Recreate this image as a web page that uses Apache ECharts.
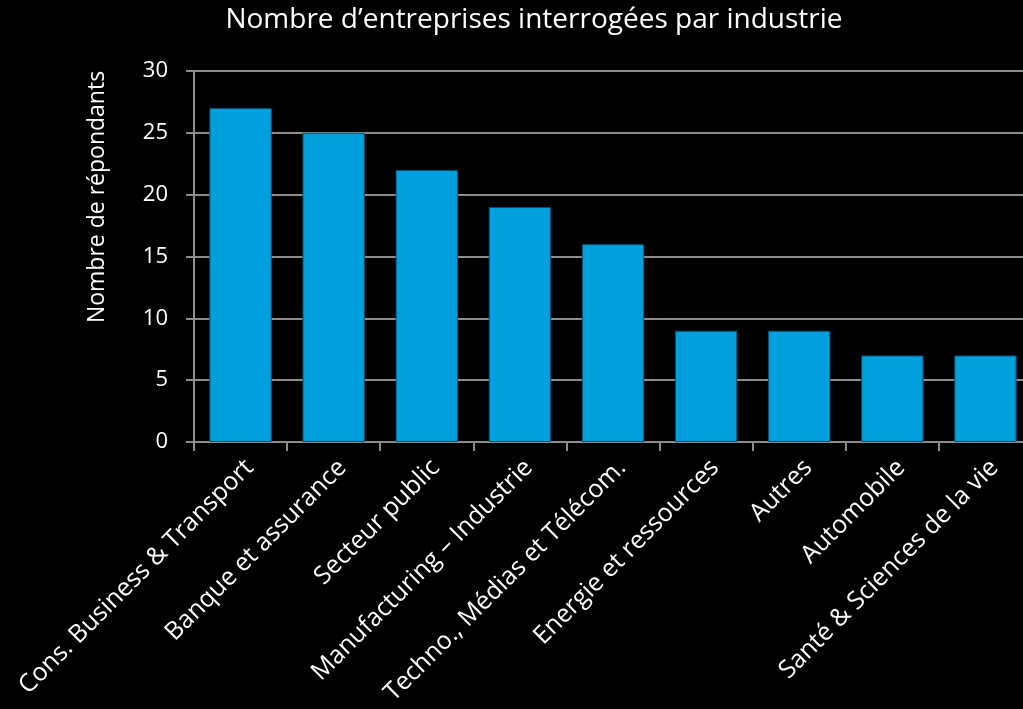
<!DOCTYPE html>
<html>
<head>
<meta charset="utf-8">
<script src="https://cdn.jsdelivr.net/npm/echarts@6/dist/echarts.min.js"></script>
<style>
  html, body { margin: 0; padding: 0; background: #000; overflow: hidden; }
  #chart { width: 1040px; height: 709px; }
</style>
</head>
<body>
<div id="chart"></div>
<script>
const industries = [
  'Cons. Business & Transport',
  'Banque et assurance',
  'Secteur public',
  'Manufacturing \u2013 Industrie',
  'Techno., M\u00e9dias et T\u00e9l\u00e9com.',
  'Energie et ressources',
  'Autres',
  'Automobile',
  'Sant\u00e9 & Sciences de la vie'
]
const respondents = [27, 25, 22, 19, 16, 9, 9, 7, 7]

const FONT = 'Open Sans'
const chart = echarts.init(document.getElementById('chart'))

// the plot runs a little past the right edge of the 1023px picture
chart.setOption({
  backgroundColor: '#000',
  animation: false,
  title: {
    text: 'Nombre d\u2019entreprises interrog\u00e9es par industrie',
    left: 529,
    textAlign: 'center',
    top: 1,
    textStyle: { color: '#fff', fontFamily: FONT, fontSize: 28, fontWeight: 'normal' }
  },
  graphic: [{
    type: 'text',
    x: 97,
    y: 197,
    rotation: Math.PI / 2,
    style: {
      text: 'Nombre de r\u00e9pondants',
      fill: '#fff',
      font: '23px "Open Sans"',
      textAlign: 'center',
      textVerticalAlign: 'middle'
    }
  }],
  grid: { left: 194, right: 8, top: 71, height: 371, containLabel: false },
  xAxis: {
    type: 'category',
    data: industries,
    axisLine: { lineStyle: { color: '#8c8c8c', width: 2 } },
    axisTick: { show: true, length: 9, lineStyle: { color: '#8c8c8c', width: 2 } },
    axisLabel: {
      color: '#fff', fontFamily: FONT, fontSize: 25, rotate: 45,
      verticalAlign: 'top', margin: 13, interval: 0
    }
  },
  yAxis: {
    type: 'value',
    min: 0,
    max: 30,
    interval: 5,
    axisLine: { show: true, lineStyle: { color: '#8c8c8c', width: 2 } },
    axisTick: { show: true, length: 8, lineStyle: { color: '#8c8c8c', width: 2 } },
    splitLine: { lineStyle: { color: '#8c8c8c', width: 2 } },
    axisLabel: { color: '#fff', fontFamily: FONT, fontSize: 22, margin: 26 }
  },
  series: [{
    type: 'bar',
    data: respondents,
    barCategoryGap: '33%',
    itemStyle: { color: '#009FDD', borderColor: '#0b4f6c', borderWidth: 1 }
  }]
})
</script>
</body>
</html>
